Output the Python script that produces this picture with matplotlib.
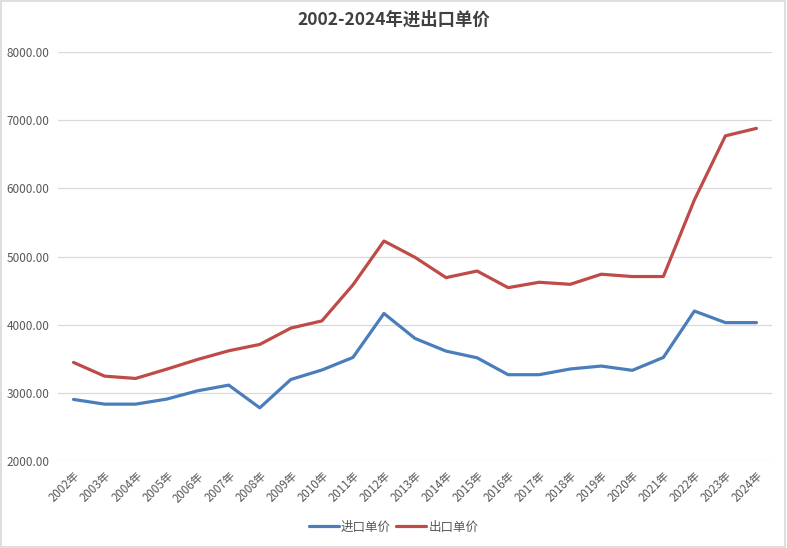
import matplotlib
matplotlib.use("Agg")
import matplotlib.pyplot as plt
from matplotlib.patches import Rectangle

plt.rcParams['font.family'] = ['Noto Sans CJK SC', 'DejaVu Sans']

years = [f"{y}年" for y in range(2002, 2025)]
import_price = [2903, 2834, 2834, 2908, 3030, 3113, 2780, 3196, 3335, 3519, 4164, 3798,
                3612, 3514, 3266, 3266, 3350, 3393, 3330, 3519, 4200, 4030, 4030]
export_price = [3446, 3245, 3211, 3347, 3490, 3617, 3710, 3950, 4055, 4583, 5227, 4988,
                4690, 4787, 4543, 4622, 4592, 4740, 4706, 4706, 5830, 6770, 6880]
yticks = [2000, 3000, 4000, 5000, 6000, 7000, 8000]

text_color = '#595959'
grid_color = '#D9D9D9'

fig = plt.figure(figsize=(7.87, 5.48), dpi=100)
fig.patches.append(Rectangle((0.001, 0.001), 0.997, 0.997, transform=fig.transFigure,
                             fill=False, edgecolor=grid_color, linewidth=1.2))
ax = fig.add_axes([58/787, 1-461/548, (772-58)/787, (461-52)/548])

x = list(range(len(years)))
ax.plot(x, import_price, color='#4A7EBB', linewidth=2.3, label='进口单价', solid_capstyle='round')
ax.plot(x, export_price, color='#BE4B48', linewidth=2.3, label='出口单价', solid_capstyle='round')

ax.set_xlim(-0.5, len(years) - 0.5)
ax.set_ylim(2000, 8000)
ax.set_yticks(yticks)
ax.set_yticklabels([f"{v:.2f}" for v in yticks], fontsize=8.5, color=text_color)
ax.set_xticks(x)
ax.set_xticklabels(years, rotation=45, ha='right', rotation_mode='anchor',
                   fontsize=8.3, color=text_color)
ax.tick_params(axis='both', length=0)
ax.tick_params(axis='y', pad=6)
ax.tick_params(axis='x', pad=6)
ax.grid(axis='y', color=grid_color, linewidth=0.9)
ax.set_axisbelow(True)
for s in ax.spines.values():
    s.set_visible(False)

fig.text(0.5, 1-20/548, '2002-2024年进出口单价', ha='center', va='center',
         fontsize=12.5, fontweight='bold', color='#404040')

leg = fig.legend(loc='center', bbox_to_anchor=(0.5, 1-527/548), ncol=2, frameon=False,
                 fontsize=9, handlelength=2.4, columnspacing=0.4, handletextpad=0.2,
                 labelcolor=text_color)

fig.savefig('out.png', dpi=100)
